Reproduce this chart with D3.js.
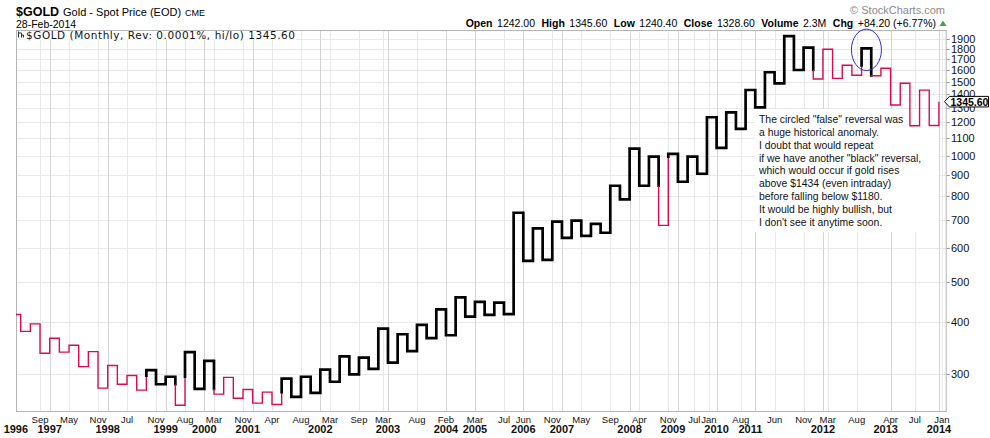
<!DOCTYPE html>
<html>
<head>
<meta charset="utf-8">
<script src="https://cdnjs.cloudflare.com/ajax/libs/d3/7.8.5/d3.min.js"></script>
<style>
  body { margin: 0; background: #fff; }
  svg { display: block; font-family: "Liberation Sans", Arial, sans-serif; }
</style>
</head>
<body>
<div id="chart-area"></div>
<script>
/*
 *    monthly kagi chart of $GOLD, reversal 0.0001%, hi/lo
 */

// price where the kagi line starts, then the end price of every vertical line
const startPrice = 417;
const kagiPrices = [
  380, 396, 337, 366, 339, 352, 313, 340, 278, 315,
  284, 298, 275, 307, 284, 296, 253, 339, 277, 323,
  269, 295, 263, 276, 256, 272, 254, 293, 265, 296,
  271, 308, 288, 331, 300, 329, 309, 386, 320, 374,
  341, 394, 366, 429, 372, 458, 412, 447, 416, 445,
  418, 730, 560, 670, 563, 695, 636, 699, 643, 687,
  654, 847, 786, 1039, 847, 994, 681, 1009, 866, 994,
  905, 1235, 1044, 1269, 1159, 1435, 1304, 1582, 1489, 1930,
  1602, 1811, 1524, 1796, 1530, 1644, 1556, 1805, 1552, 1617,
  1321, 1489, 1179, 1434, 1180, 1345.6,
];
const lastPrice = 1345.6;

// right axis
const priceTicks = [1900, 1800, 1700, 1600, 1500, 1400, 1300, 1200, 1100,
  1000, 900, 800, 700, 600, 500, 400, 300];

// x labels: [line index, label]
const monthTicks = [
  [2, "Sep"], [5, "May"], [8, "Nov"], [11, "Jul"], [14, "Nov"], [17, "Aug"],
  [20, "Mar"], [23, "Nov"], [26, "Apr"], [29, "Aug"], [32, "Mar"], [35, "Sep"],
  [37.5, "Mar"], [41, "Aug"], [44, "Feb"], [47, "Mar"], [50, "Jul"], [52, "Jun"],
  [55, "Nov"], [58, "May"], [61, "Sep"], [64, "Apr"], [67, "Nov"], [69.7, "Jul"],
  [71.2, "Jan"], [74.5, "Aug"], [78, "Jun"], [81, "Nov"], [83.5, "Mar"],
  [86.5, "Aug"], [90, "Apr"], [92.5, "Jul"], [95.3, "Jan"],
];
const yearTicks = [
  [-0.5, "1996"], [3, "1997"], [9, "1998"], [15, "1999"], [19, "2000"],
  [23.5, "2001"], [31, "2002"], [38, "2003"], [44, "2004"], [47, "2005"],
  [52, "2006"], [56, "2007"], [63, "2008"], [67.5, "2009"], [72, "2010"],
  [75.5, "2011"], [83, "2012"], [89.5, "2013"], [95, "2014"],
];

const quoteItems = [
  ["Open", "1242.00"], ["High", "1345.60"], ["Low", "1240.40"],
  ["Close", "1328.60"], ["Volume", "2.3M"], ["Chg", "+84.20 (+6.77%)"],
];

const noteLines = [
  'The circled "false" reversal was',
  "a huge historical anomaly.",
  "I doubt that would repeat",
  'if we have another "black" reversal,',
  "which would occur if gold rises",
  "above $1434 (even intraday)",
  "before falling below $1180.",
  "It would be highly bullish, but",
  "I don't see it anytime soon.",
];

const PLOT = { LEFT: 16, RIGHT: 946.7, TOP: 30, BOTTOM: 412 };
const COLORS = { yang: "#000000", yin: "#dc0a52", grid: "#e8e8e8", yearGrid: "#d4d4d4" };

class KagiChart {
  constructor(_chartLocation) {
    this.chartLocation = _chartLocation;
    this.initVis();
  }

  initVis() {
    const vis = this;

    vis.svg = d3
      .select(vis.chartLocation)
      .append("svg")
      .attr("width", 990)
      .attr("height", 438);

    vis.svg.append("rect").attr("width", 990).attr("height", 438).attr("fill", "#fff");

    // line index -> x, price -> y (log)
    vis.x = d3.scaleLinear().domain([0, 95]).range([20.7, 938.9]);
    vis.y = d3.scaleLog().domain([243.8, 1996.5]).range([PLOT.BOTTOM, PLOT.TOP]);

    vis.svg
      .append("clipPath")
      .attr("id", "plot-clip")
      .append("rect")
      .attr("x", PLOT.LEFT)
      .attr("y", PLOT.TOP)
      .attr("width", PLOT.RIGHT - PLOT.LEFT)
      .attr("height", PLOT.BOTTOM - PLOT.TOP);

    vis.drawHeader();
    vis.wrangleData();
  }

  drawHeader() {
    const vis = this;

    const title = vis.svg.append("text").attr("x", 16).attr("y", 16);
    title.append("tspan").attr("font-weight", "bold").attr("font-size", "12.5px").text("$GOLD");
    title.append("tspan").attr("font-size", "11px").attr("dx", 4).text("Gold - Spot Price (EOD)");
    title.append("tspan").attr("font-size", "9px").attr("dx", 4).text("CME");

    vis.svg
      .append("text")
      .attr("x", 16)
      .attr("y", 27.5)
      .attr("font-size", "10.5px")
      .text("28-Feb-2014");

    vis.svg
      .append("text")
      .attr("x", 945)
      .attr("y", 14)
      .attr("text-anchor", "end")
      .attr("font-size", "11px")
      .attr("fill", "#8a8a8a")
      .text("\u00a9 StockCharts.com");

    const quote = vis.svg
      .append("text")
      .attr("x", 936)
      .attr("y", 27)
      .attr("text-anchor", "end")
      .attr("font-size", "10.5px");
    quoteItems.forEach((q, i) => {
      quote
        .append("tspan")
        .attr("font-weight", "bold")
        .attr("dx", i === 0 ? 0 : 6.5)
        .text(q[0]);
      quote.append("tspan").attr("dx", 4.5).text(q[1]);
    });

    vis.svg
      .append("path")
      .attr("d", "M939.5,26 L943,20.5 L946.5,26 Z")
      .attr("fill", "#4f9a4f");
  }

  // build the kagi segments and their yin/yang state
  wrangleData() {
    const vis = this;

    vis.segments = [];
    let state = "yin";
    let lastHigh = startPrice;
    let lastLow = null;
    let prev = startPrice;

    const push = (x1, p1, x2, p2, c) => vis.segments.push({ x1, p1, x2, p2, c });

    push(-1, startPrice, 0, startPrice, state);

    kagiPrices.forEach((p, i) => {
      if (p > prev) {
        if (state === "yin" && p > lastHigh) {
          push(i, prev, i, lastHigh, "yin");
          push(i, lastHigh, i, p, "yang");
          state = "yang";
        } else {
          push(i, prev, i, p, state);
        }
        lastHigh = p;
      } else {
        if (state === "yang" && lastLow !== null && p < lastLow) {
          push(i, prev, i, lastLow, "yang");
          push(i, lastLow, i, p, "yin");
          state = "yin";
        } else {
          push(i, prev, i, p, state);
        }
        lastLow = p;
      }
      if (i < kagiPrices.length - 1) push(i, p, i + 1, p, state);
      prev = p;
    });

    // join consecutive segments of the same colour into one polyline
    vis.runs = [];
    vis.segments.forEach((s) => {
      const run = vis.runs[vis.runs.length - 1];
      if (run && run.c === s.c) {
        run.points.push([s.x2, s.p2]);
      } else {
        vis.runs.push({ c: s.c, points: [[s.x1, s.p1], [s.x2, s.p2]] });
      }
    });

    vis.updateVis();
  }

  updateVis() {
    const vis = this;

    // grid
    vis.grid = vis.svg.append("g").attr("class", "grid");

    vis.grid
      .selectAll(".h-grid")
      .data(priceTicks)
      .enter()
      .append("line")
      .attr("x1", PLOT.LEFT)
      .attr("x2", PLOT.RIGHT)
      .attr("y1", (d) => Math.round(vis.y(d)) + 0.5)
      .attr("y2", (d) => Math.round(vis.y(d)) + 0.5)
      .attr("stroke", COLORS.grid);

    vis.grid
      .selectAll(".m-grid")
      .data(monthTicks)
      .enter()
      .append("line")
      .attr("x1", (d) => Math.round(vis.x(d[0])) + 0.5)
      .attr("x2", (d) => Math.round(vis.x(d[0])) + 0.5)
      .attr("y1", PLOT.TOP)
      .attr("y2", PLOT.BOTTOM)
      .attr("stroke", COLORS.grid);

    vis.grid
      .selectAll(".y-grid")
      .data(yearTicks.filter((d) => d[0] >= 0))
      .enter()
      .append("line")
      .attr("x1", (d) => Math.round(vis.x(Math.round(d[0]))) + 0.5)
      .attr("x2", (d) => Math.round(vis.x(Math.round(d[0]))) + 0.5)
      .attr("y1", PLOT.TOP)
      .attr("y2", PLOT.BOTTOM)
      .attr("stroke", COLORS.yearGrid);

    // plot frame
    vis.svg
      .append("rect")
      .attr("x", PLOT.LEFT + 0.5)
      .attr("y", PLOT.TOP + 0.5)
      .attr("width", PLOT.RIGHT - PLOT.LEFT - 1)
      .attr("height", PLOT.BOTTOM - PLOT.TOP - 1)
      .attr("fill", "none")
      .attr("stroke", "#b4b4b4");

    // legend in the top-left corner
    vis.svg
      .append("rect")
      .attr("x", PLOT.LEFT + 1)
      .attr("y", PLOT.TOP + 1)
      .attr("width", 279)
      .attr("height", 8.5)
      .attr("fill", "#fff");
    vis.svg
      .append("path")
      .attr("d", "M18.5,31.5 V37.5 M18.5,33 H21.5 V37.5 M21.5,35 H23.5 V37.5")
      .attr("fill", "none")
      .attr("stroke", "#333")
      .attr("stroke-width", 1);
    vis.svg
      .append("text")
      .attr("x", 26)
      .attr("y", 38.5)
      .attr("font-family", "DejaVu Sans, Verdana, sans-serif")
      .attr("font-size", "10.5px")
      .attr("textLength", 269)
      .attr("lengthAdjust", "spacing")
      .attr("fill", "#111")
      .text("$GOLD (Monthly, Rev: 0.0001%, hi/lo) " + lastPrice.toFixed(2));

    // note box
    vis.svg
      .append("rect")
      .attr("x", 755)
      .attr("y", 109)
      .attr("width", 184)
      .attr("height", 123)
      .attr("fill", "#fff");
    vis.svg
      .append("g")
      .selectAll("text")
      .data(noteLines)
      .enter()
      .append("text")
      .attr("x", 759)
      .attr("y", (d, i) => 122.8 + i * 12.9)
      .attr("font-size", "10.4px")
      .attr("fill", "#111")
      .text((d) => d);

    // kagi line
    vis.line = d3
      .line()
      .x((d) => vis.x(d[0]))
      .y((d) => vis.y(d[1]));

    vis.svg
      .append("g")
      .attr("clip-path", "url(#plot-clip)")
      .selectAll(".kagi")
      .data(vis.runs)
      .enter()
      .append("path")
      .attr("class", "kagi")
      .attr("d", (d) => vis.line(d.points))
      .attr("fill", "none")
      .attr("stroke", (d) => COLORS[d.c])
      .attr("stroke-width", (d) => (d.c === "yang" ? 2.7 : 1.4))
      .attr("stroke-linejoin", "miter")
      .attr("stroke-linecap", (d) => (d.c === "yang" ? "square" : "butt"));

    // circled "false" reversal
    vis.svg
      .append("ellipse")
      .attr("cx", vis.x(87.5))
      .attr("cy", vis.y(1790))
      .attr("rx", 15)
      .attr("ry", 20.7)
      .attr("fill", "none")
      .attr("stroke", "#2b2bf0")
      .attr("stroke-width", 1);

    // right price axis
    vis.yAxis = vis.svg.append("g").attr("class", "y axis");
    vis.yAxis
      .selectAll("line")
      .data(priceTicks)
      .enter()
      .append("line")
      .attr("x1", PLOT.RIGHT)
      .attr("x2", PLOT.RIGHT + 3)
      .attr("y1", (d) => Math.round(vis.y(d)) + 0.5)
      .attr("y2", (d) => Math.round(vis.y(d)) + 0.5)
      .attr("stroke", "#999");
    vis.yAxis
      .selectAll("text")
      .data(priceTicks)
      .enter()
      .append("text")
      .attr("x", 951)
      .attr("y", (d) => vis.y(d) + 4)
      .attr("font-size", "11px")
      .attr("fill", "#111")
      .text((d) => d);

    // last price callout
    const ly = vis.y(lastPrice);
    vis.svg
      .append("path")
      .attr("d", `M944.5,${ly} L949.5,${ly - 5.3} H988.5 V${ly + 5.3} H949.5 Z`)
      .attr("fill", "#fff")
      .attr("stroke", "#000")
      .attr("stroke-width", 1);
    vis.svg
      .append("text")
      .attr("x", 950.5)
      .attr("y", ly + 4)
      .attr("font-size", "10.5px")
      .attr("font-weight", "bold")
      .text(lastPrice.toFixed(2));

    // bottom labels
    vis.svg
      .append("g")
      .selectAll("text")
      .data(monthTicks)
      .enter()
      .append("text")
      .attr("x", (d) => vis.x(d[0]))
      .attr("y", 423)
      .attr("text-anchor", "middle")
      .attr("font-size", "9.5px")
      .attr("fill", "#111")
      .text((d) => d[1]);

    vis.svg
      .append("g")
      .selectAll("text")
      .data(yearTicks)
      .enter()
      .append("text")
      .attr("x", (d) => vis.x(d[0]))
      .attr("y", 432.5)
      .attr("text-anchor", "middle")
      .attr("font-size", "11px")
      .attr("font-weight", "bold")
      .attr("fill", "#111")
      .text((d) => d[1]);
  }
}

new KagiChart("#chart-area");
</script>
</body>
</html>
